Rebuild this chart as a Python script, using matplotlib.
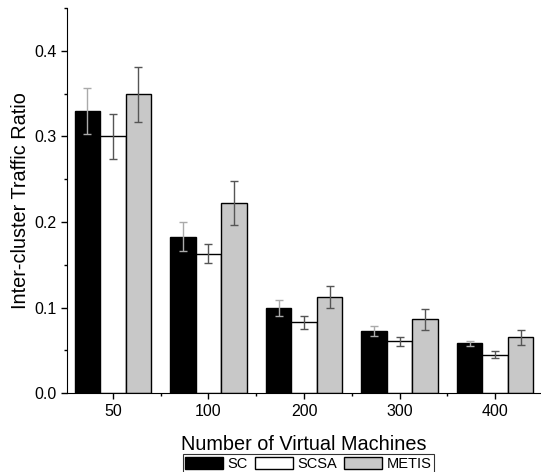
import numpy as np
import matplotlib.pyplot as plt
from matplotlib.ticker import MultipleLocator

plt.rcParams['font.family'] = ['Liberation Sans', 'DejaVu Sans']

vm_counts = ['50', '100', '200', '300', '400']
sc = [0.330, 0.183, 0.0995, 0.0727, 0.0583]
sc_err = [0.027, 0.017, 0.009, 0.006, 0.003]
scsa = [0.300, 0.163, 0.083, 0.0606, 0.045]
scsa_err = [0.026, 0.011, 0.0075, 0.005, 0.004]
metis = [0.349, 0.222, 0.112, 0.0863, 0.0653]
metis_err = [0.032, 0.026, 0.013, 0.012, 0.009]

x = np.arange(len(vm_counts))
w = 0.267

fig = plt.figure(figsize=(5.41, 4.72), dpi=100)
ax = fig.add_axes([0.124, 0.167, 0.876, 0.816])

ekw = dict(ecolor='#555555', elinewidth=1.0, capsize=3, capthick=1.0)
ax.bar(x - w, sc, w, yerr=sc_err, color='black', edgecolor='black',
       linewidth=1.0, label='SC', error_kw=dict(ekw, ecolor='#aaaaaa'))
ax.bar(x, scsa, w, yerr=scsa_err, color='white', edgecolor='black',
       linewidth=1.0, label='SCSA', error_kw=ekw)
ax.bar(x + w, metis, w, yerr=metis_err, color='#c8c8c8', edgecolor='black',
       linewidth=1.0, label='METIS', error_kw=ekw)

ax.set_xlim(-0.48, 4.48)
ax.set_ylim(0, 0.45)
ax.set_xticks(x)
ax.set_xticklabels(vm_counts)
ax.xaxis.set_minor_locator(MultipleLocator(0.5))
ax.yaxis.set_major_locator(MultipleLocator(0.1))
ax.yaxis.set_minor_locator(MultipleLocator(0.05))
ax.yaxis.set_major_formatter(plt.FuncFormatter(lambda v, p: f'{v:.1f}'))
ax.tick_params(labelsize=11.5, length=4, width=1)
ax.tick_params(which='minor', length=2.5, width=1)
ax.spines['top'].set_visible(False)
ax.spines['right'].set_visible(False)

ax.set_ylabel('Inter-cluster Traffic Ratio', fontsize=14.3, labelpad=3)
ax.set_xlabel('Number of Virtual Machines', fontsize=14.3, labelpad=12)

leg = fig.legend(loc='lower center', bbox_to_anchor=(0.57, -0.005), ncol=3,
                 fontsize=10.5, frameon=True, fancybox=False, edgecolor='black',
                 handlelength=2.6, handleheight=0.9, handletextpad=0.3,
                 columnspacing=0.5, borderpad=0.15, borderaxespad=0.1)
leg.get_frame().set_linewidth(0.8)

fig.savefig('out.png', dpi=100)
